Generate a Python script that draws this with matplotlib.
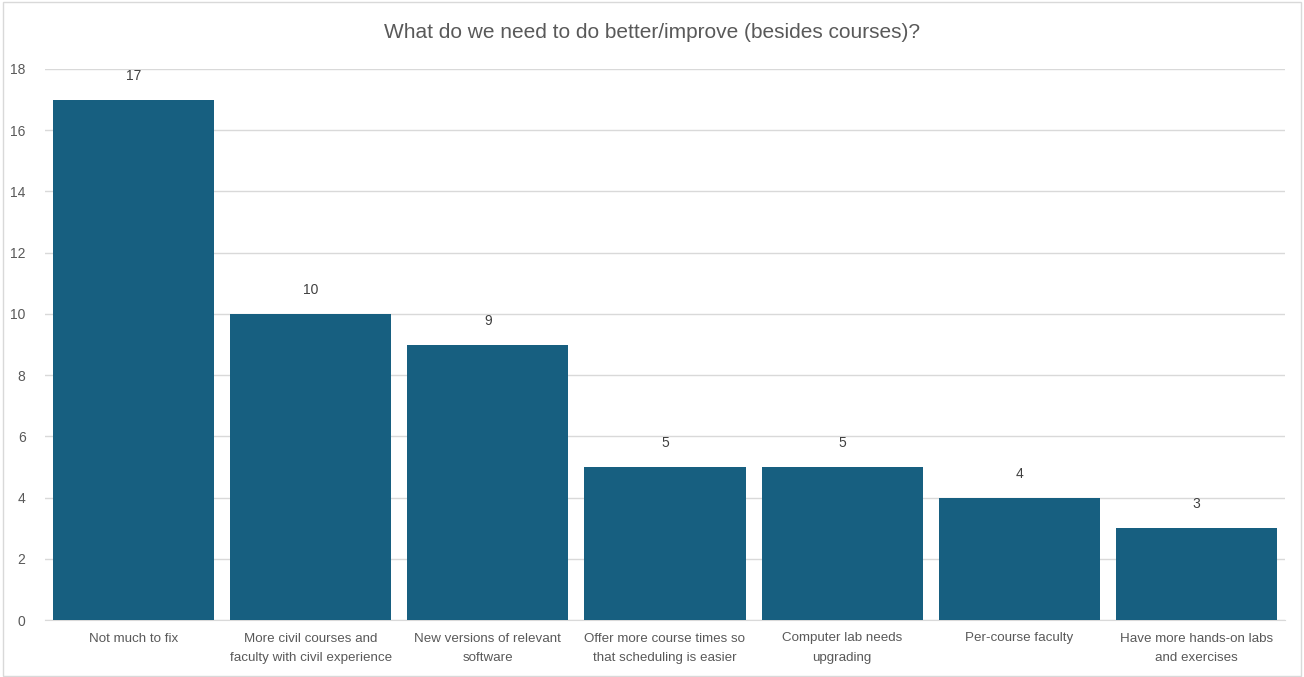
import matplotlib
matplotlib.use("Agg")
import matplotlib.pyplot as plt
from matplotlib.patches import Rectangle

categories = [
    "Not much to fix",
    "More civil courses and\nfaculty with civil experience",
    "New versions of relevant\nsoftware",
    "Offer more course times so\nthat scheduling is easier",
    "Computer lab needs\nupgrading",
    "Per-course faculty",
    "Have more hands-on labs\nand exercises",
]
values = [17, 10, 9, 5, 5, 4, 3]
yticks = [0, 2, 4, 6, 8, 10, 12, 14, 16, 18]
title = "What do we need to do better/improve (besides courses)?"

plt.rcParams["font.family"] = ["Liberation Sans", "DejaVu Sans"]

fig = plt.figure(figsize=(13.04, 6.77), dpi=100)
ax = fig.add_axes([45/1304, 1 - 620/677, 1240/1304, (620-69)/677])

bar_color = "#175f80"
text_color = "#595959"
x = range(len(categories))
ax.bar(x, values, width=0.91, color=bar_color, zorder=3)
for xi, v in zip(x, values):
    ax.annotate(str(v), (xi, v), xytext=(0, 12), textcoords="offset points",
                ha="center", va="bottom", fontsize=10, color="#404040")

ax.set_xlim(-0.5, len(categories) - 0.5)
ax.set_ylim(0, 18)
ax.set_yticks(yticks)
ax.yaxis.grid(True, color="#d9d9d9", linewidth=1, zorder=0)
ax.set_xticks(list(x))
ax.set_xticklabels(categories, fontsize=9.6, color=text_color, linespacing=1.85)
ax.tick_params(axis="y", length=0, labelsize=10, labelcolor=text_color, pad=14)
ax.tick_params(axis="x", length=0, pad=9)
for s in ["top", "right", "left"]:
    ax.spines[s].set_visible(False)
ax.spines["bottom"].set_color("#d9d9d9")

fig.text(0.5, 1 - 32/677, title, ha="center", va="center", fontsize=15, color=text_color)
fig.patches.append(Rectangle((0.002, 0.002), 0.996, 0.995, transform=fig.transFigure,
                             fill=False, edgecolor="#d9d9d9", linewidth=1))
fig.savefig("out.png", dpi=100)
